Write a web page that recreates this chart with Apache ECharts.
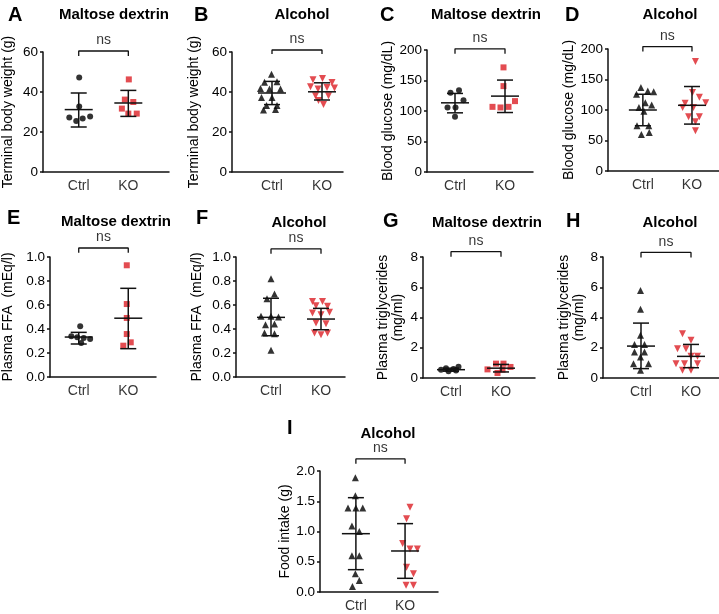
<!DOCTYPE html>
<html lang="en">
<head>
  <meta charset="UTF-8">
  <title>Ctrl vs KO</title>
  <script src="https://cdn.jsdelivr.net/npm/echarts@6/dist/echarts.min.js"></script>
  <style>
    * { margin: 0; padding: 0; }
    body { background: #fff; }
    #main { width: 719px; height: 614px; }
  </style>
</head>
<body>
  <div id="main"></div>
  <script>
    // groups on the x axis (1 = Ctrl, 2 = KO), points are [x with jitter, value]
    var groups = ['Ctrl', 'KO'];

    // A - terminal body weight, maltose dextrin
    var aCtrl = [[1.01, 47.2], [1.01, 32.8], [0.81, 27.2], [0.95, 25.5], [1.08, 26.7], [1.23, 27.8]];
    var aKO = [[2.01, 46.3], [1.93, 36.2], [2.10, 35.0], [1.87, 31.7], [2.00, 29.2], [2.17, 29.2]];
    var aStats = [[31.2, 22.5, 39.5], [34.5, 27.8, 40.8]]; // mean, lower, upper

    // B - terminal body weight, alcohol
    var bCtrl = [[0.99, 48.9], [0.85, 44.9], [1.10, 45.1], [0.77, 41.8], [0.95, 41.5], [1.17, 41.5],
                 [0.79, 37.3], [1.00, 37.3], [0.89, 33.2], [1.10, 33.2], [0.83, 31.0], [1.07, 31.3]];
    var bKO = [[1.82, 46.1], [2.01, 46.8], [2.20, 44.8], [1.77, 42.6], [1.92, 41.5], [2.10, 42.3],
               [2.25, 42.0], [1.87, 38.1], [2.13, 38.1], [1.93, 35.7], [2.03, 33.7]];
    var bStats = [[39.5, 33.7, 45.3], [40.1, 36.0, 44.6]];

    // C - blood glucose, maltose dextrin
    var cCtrl = [[0.91, 129.9], [1.08, 134.2], [1.17, 117.8], [0.85, 105.8], [1.01, 105.8], [1.00, 90.4]];
    var cKO = [[1.97, 171.5], [1.97, 140.8], [2.20, 116.2], [1.75, 106.8], [1.91, 105.8], [2.07, 106.8]];
    var cStats = [[113.4, 97.0, 128.8], [124.4, 97.5, 150.7]];

    // D - blood glucose, alcohol
    var dCtrl = [[0.96, 137], [1.10, 131], [1.22, 130], [0.87, 126], [1.05, 112], [1.18, 108],
                 [0.92, 104], [1.02, 98], [0.88, 74], [1.12, 74], [0.97, 60], [1.13, 63]];
    var dKO = [[2.07, 179.7], [2.01, 128.6], [2.15, 120.9], [2.28, 112.0], [1.86, 111.0], [1.81, 104.0],
               [2.03, 104.0], [1.93, 89.0], [2.15, 89.0], [2.07, 80.8], [2.07, 66.0]];
    var dStats = [[100.0, 74.2, 125.8], [107.7, 76.9, 138.5]];

    // E - plasma FFA, maltose dextrin
    var eCtrl = [[1.03, 0.422], [0.85, 0.339], [0.97, 0.331], [1.10, 0.325], [1.23, 0.317], [1.05, 0.283]];
    var eKO = [[1.97, 0.931], [1.97, 0.608], [1.97, 0.492], [1.97, 0.358], [2.05, 0.289], [1.90, 0.261]];
    var eStats = [[0.333, 0.275, 0.372], [0.49, 0.236, 0.739]];

    // F - plasma FFA, alcohol
    var fCtrl = [[1.00, 0.819], [1.07, 0.692], [0.92, 0.653], [0.80, 0.506], [1.00, 0.506], [1.15, 0.500],
                 [0.89, 0.436], [1.07, 0.442], [0.87, 0.367], [1.07, 0.361], [1.00, 0.222]];
    var fKO = [[1.83, 0.630], [2.03, 0.630], [1.90, 0.594], [2.13, 0.589], [1.83, 0.533], [2.00, 0.519],
               [2.17, 0.539], [1.90, 0.450], [2.10, 0.444], [1.87, 0.367], [2.00, 0.353], [2.13, 0.367]];
    var fStats = [[0.497, 0.344, 0.656], [0.483, 0.394, 0.572]];

    // G - plasma triglycerides, maltose dextrin
    var gCtrl = [[1.15, 0.75], [0.90, 0.65], [1.05, 0.60], [0.80, 0.55], [1.10, 0.50], [0.95, 0.45]];
    var gKO = [[1.90, 0.95], [2.05, 0.95], [1.73, 0.57], [2.19, 0.73], [1.93, 0.33], [2.03, 0.55]];
    var gStats = [[0.55, 0.45, 0.65], [0.65, 0.40, 0.90]];

    // H - plasma triglycerides, alcohol
    var hCtrl = [[0.99, 5.79], [0.99, 4.54], [0.99, 2.82], [0.87, 2.22], [1.07, 2.22], [0.87, 1.72],
                 [1.07, 1.72], [0.99, 1.39], [0.85, 0.95], [1.15, 0.95], [0.99, 0.51]];
    var hKO = [[1.83, 2.93], [2.00, 2.49], [1.73, 1.94], [1.90, 1.94], [2.00, 1.43], [2.13, 1.43],
               [1.70, 0.95], [1.87, 0.95], [2.13, 0.95], [1.83, 0.51], [2.00, 0.51]];
    var hStats = [[2.11, 0.62, 3.63], [1.43, 0.68, 2.22]];

    // I - food intake, alcohol
    var iCtrl = [[0.99, 1.89], [0.99, 1.59], [0.84, 1.39], [1.00, 1.39], [1.14, 1.39], [0.92, 1.09],
                 [1.07, 1.00], [0.92, 0.60], [1.07, 0.60], [0.99, 0.30], [1.07, 0.19], [0.93, 0.09]];
    var iKO = [[2.10, 1.40], [2.03, 1.21], [1.95, 0.80], [2.10, 0.71], [2.25, 0.71], [2.03, 0.41],
               [2.17, 0.30], [2.02, 0.11], [2.17, 0.11]];
    var iStats = [[0.964, 0.369, 1.559], [0.678, 0.226, 1.13]];

    var RED = '#dc1f26';
    var INK = '#111';
    var FONT = 'Liberation Sans, Arial, Helvetica, sans-serif';

    // panel setup: grid box in px, x range so Ctrl/KO land where they are in the figure
    var panels = [
      { letter: 'A', title: 'Maltose dextrin', yName: 'Terminal body weight (g)', ctrl: aCtrl, ko: aKO, stats: aStats,
        yMax: 60, yInt: 20, dec: 0, tri: false, bracket: [60.5, 2.5],
        grid: { left: 42, top: 52, width: 127, height: 120 }, xMin: 0.28, xMax: 2.82, nameGap: 27, lx: 3, ly: 0, tx: 109, ty: 2 },
      { letter: 'B', title: 'Alcohol', yName: 'Terminal body weight (g)', ctrl: bCtrl, ko: bKO, stats: bStats,
        yMax: 60, yInt: 20, dec: 0, tri: true, bracket: [61, 2],
        grid: { left: 232, top: 52, width: 111, height: 120 }, xMin: 0.2, xMax: 2.42, nameGap: 30, lx: 189, ly: 0, tx: 297, ty: 2 },
      { letter: 'C', title: 'Maltose dextrin', yName: 'Blood glucose (mg/dL)', ctrl: cCtrl, ko: cKO, stats: cStats,
        yMax: 200, yInt: 50, dec: 0, tri: false, bracket: [202, 8],
        grid: { left: 427, top: 50, width: 106, height: 122 }, xMin: 0.44, xMax: 2.56, nameGap: 28, lx: 375, ly: 0, tx: 481, ty: 2 },
      { letter: 'D', title: 'Alcohol', yName: 'Blood glucose (mg/dL)', ctrl: dCtrl, ko: dKO, stats: dStats,
        yMax: 200, yInt: 50, dec: 0, tri: true, bracket: [204, 8],
        grid: { left: 608, top: 49, width: 111, height: 122 }, xMin: 0.29, xMax: 2.55, nameGap: 28, lx: 560, ly: 0, tx: 665, ty: 2 },
      { letter: 'E', title: 'Maltose dextrin', yName: 'Plasma FFA  (mEq/l)', ctrl: eCtrl, ko: eKO, stats: eStats,
        yMax: 1.0, yInt: 0.2, dec: 1, tri: false, bracket: [1.075, 0.04],
        grid: { left: 49, top: 257, width: 107, height: 120 }, xMin: 0.42, xMax: 2.56, nameGap: 34, lx: 2, ly: 203, tx: 111, ty: 209 },
      { letter: 'F', title: 'Alcohol', yName: 'Plasma FFA  (mEq/l)', ctrl: fCtrl, ko: fKO, stats: fStats,
        yMax: 1.0, yInt: 0.2, dec: 1, tri: true, bracket: [1.067, 0.04],
        grid: { left: 236, top: 257, width: 109, height: 120 }, xMin: 0.3, xMax: 2.48, nameGap: 31, lx: 191, ly: 203, tx: 294, ty: 210 },
      { letter: 'G', title: 'Maltose dextrin', yName: 'Plasma triglycerides\n(mg/ml)', ctrl: gCtrl, ko: gKO, stats: gStats,
        yMax: 8, yInt: 2, dec: 0, tri: false, bracket: [8.35, 0.33],
        grid: { left: 423, top: 257, width: 112, height: 121 }, xMin: 0.44, xMax: 2.68, nameGap: 17, lx: 378, ly: 206, tx: 482, ty: 210 },
      { letter: 'H', title: 'Alcohol', yName: 'Plasma triglycerides\n(mg/ml)', ctrl: hCtrl, ko: hKO, stats: hStats,
        yMax: 8, yInt: 2, dec: 0, tri: true, bracket: [8.3, 0.33],
        grid: { left: 603, top: 257, width: 116, height: 121 }, xMin: 0.24, xMax: 2.56, nameGap: 16, lx: 561, ly: 206, tx: 665, ty: 210 },
      { letter: 'I', title: 'Alcohol', yName: 'Food intake (g)', ctrl: iCtrl, ko: iKO, stats: iStats,
        yMax: 2.0, yInt: 0.5, dec: 1, tri: true, bracket: [2.2, 0.08],
        grid: { left: 320, top: 471, width: 118, height: 121 }, xMin: 0.27, xMax: 2.67, nameGap: 25, lx: 282, ly: 413, tx: 383, ty: 421 }
    ];

    // mean line + SD whiskers with caps
    function renderErrorBar(params, api) {
      var x = api.value(0);
      var m = api.coord([x, api.value(1)]);
      var lo = api.coord([x, api.value(2)]);
      var hi = api.coord([x, api.value(3)]);
      var st = { stroke: INK, lineWidth: 1.5 };
      return {
        type: 'group',
        children: [
          { type: 'line', shape: { x1: lo[0], y1: lo[1], x2: hi[0], y2: hi[1] }, style: st },
          { type: 'line', shape: { x1: m[0] - 14, y1: m[1], x2: m[0] + 14, y2: m[1] }, style: st },
          { type: 'line', shape: { x1: lo[0] - 8, y1: lo[1], x2: lo[0] + 8, y2: lo[1] }, style: st },
          { type: 'line', shape: { x1: hi[0] - 8, y1: hi[1], x2: hi[0] + 8, y2: hi[1] }, style: st }
        ]
      };
    }

    var option = {
      animation: false,
      backgroundColor: '#fff',
      textStyle: { fontFamily: FONT },
      title: [],
      grid: [],
      xAxis: [],
      yAxis: [],
      series: []
    };

    panels.forEach(function (p, k) {
      option.title.push({
        text: p.letter, left: p.lx, top: p.ly,
        textStyle: { fontSize: 20, fontWeight: 'bold', color: '#000', fontFamily: FONT }
      });
      option.title.push({
        text: p.title, left: p.tx, top: p.ty, textAlign: 'center',
        textStyle: { fontSize: 15, fontWeight: 'bold', color: '#000', fontFamily: FONT }
      });

      option.grid.push(p.grid);
      option.xAxis.push({
        type: 'value', gridIndex: k, min: p.xMin, max: p.xMax,
        axisLine: { lineStyle: { color: INK, width: 1.5 } },
        axisTick: { show: false }, axisLabel: { show: false }, splitLine: { show: false }
      });
      option.yAxis.push({
        type: 'value', gridIndex: k, min: 0, max: p.yMax, interval: p.yInt,
        name: p.yName, nameLocation: 'middle', nameGap: p.nameGap,
        nameTextStyle: { fontSize: 14, color: '#000', fontFamily: FONT, lineHeight: 15 },
        axisLine: { show: true, lineStyle: { color: INK, width: 1.5 } },
        axisTick: { show: true, length: 3, lineStyle: { color: INK, width: 1.5 } },
        axisLabel: {
          fontSize: 13.5, color: '#000', margin: 5, fontFamily: FONT,
          formatter: function (v) { return v.toFixed(p.dec); }
        },
        splitLine: { show: false }
      });

      option.series.push({
        type: 'scatter', xAxisIndex: k, yAxisIndex: k, data: p.ctrl,
        symbol: p.tri ? 'triangle' : 'circle', symbolSize: p.tri ? 7 : 6,
        itemStyle: { color: '#000' }
      });
      option.series.push({
        type: 'scatter', xAxisIndex: k, yAxisIndex: k, data: p.ko,
        symbol: p.tri ? 'triangle' : 'rect', symbolSize: p.tri ? 7 : 6, symbolRotate: p.tri ? 180 : 0,
        itemStyle: { color: RED }
      });
      option.series.push({
        type: 'custom', xAxisIndex: k, yAxisIndex: k, renderItem: renderErrorBar, z: 5,
        data: [[1].concat(p.stats[0]), [2].concat(p.stats[1])]
      });

      // ns bracket above the two groups
      var by = p.bracket[0], bd = p.bracket[1];
      option.series.push({
        type: 'line', xAxisIndex: k, yAxisIndex: k, clip: false, symbol: 'none',
        lineStyle: { color: INK, width: 1.3 },
        data: [[1, by - bd], [1, by], [2, by], [2, by - bd]]
      });
      option.series.push({
        type: 'scatter', xAxisIndex: k, yAxisIndex: k, clip: false, symbolSize: 1,
        itemStyle: { color: 'transparent' },
        label: { show: true, position: 'top', distance: 3, formatter: 'ns', fontSize: 14, color: '#000', fontFamily: FONT },
        data: [[1.5, by]]
      });

      // group names under the x axis
      option.series.push({
        type: 'scatter', xAxisIndex: k, yAxisIndex: k, clip: false, symbolSize: 1,
        itemStyle: { color: 'transparent' },
        label: { show: true, position: 'bottom', distance: 7, formatter: '{b}', fontSize: 14, color: '#000', fontFamily: FONT },
        data: groups.map(function (g, i) { return { name: g, value: [i + 1, 0] }; })
      });
    });

    var myChart = echarts.init(document.getElementById('main'));
    myChart.setOption(option);
  </script>
</body>
</html>
